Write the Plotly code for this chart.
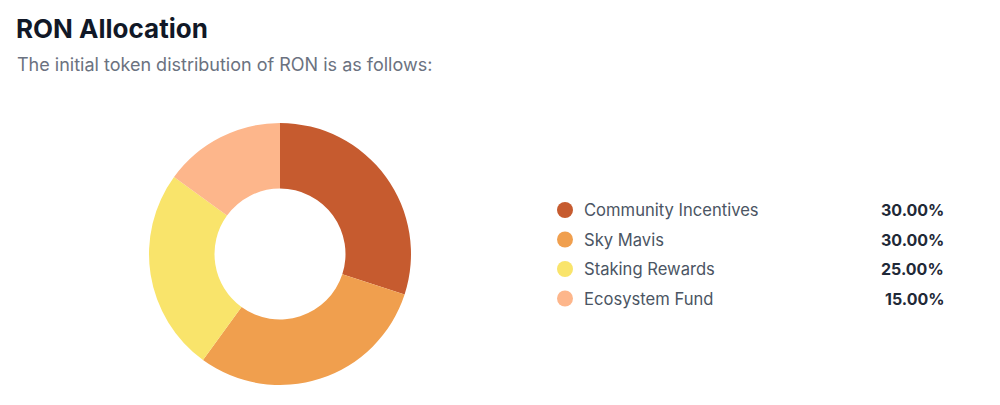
import plotly.graph_objects as go

# allocation data
labels = ["Community Incentives", "Sky Mavis", "Staking Rewards", "Ecosystem Fund"]
shares = [30.0, 30.0, 25.0, 15.0]
colors = ["#C65B2F", "#F09F4E", "#F9E46B", "#FDB68B"]

W, H = 1000, 405
off = 8  # page body margin, coordinates below are page pixels
font = "Inter, 'Noto Sans', sans-serif"

# donut centre / radius in page pixels
cx, cy, r = 280 - off, 254 - off, 131

fig = go.Figure()
fig.add_trace(go.Pie(
    labels=labels, values=shares, sort=False, direction="clockwise", rotation=0,
    hole=0.5, textinfo="none", hoverinfo="label+percent",
    marker=dict(colors=colors, line=dict(width=0)),
    domain=dict(x=[(cx - r) / W, (cx + r) / W], y=[(H - cy - r) / H, (H - cy + r) / H]),
    showlegend=False,
))

# custom legend on the right, pixel axes
row0, step = 210, 29.5
ys = [row0 + i * step for i in range(len(labels))]
fig.add_trace(go.Scatter(
    x=[565] * len(labels), y=ys, mode="markers",
    marker=dict(size=16, color=colors), hoverinfo="skip", showlegend=False,
))
for i, lab in enumerate(labels):
    fig.add_annotation(x=582, y=ys[i], text=lab, showarrow=False, xanchor="left", yanchor="middle",
                       font=dict(family=font, size=16.6, color="#4B5563"))
    fig.add_annotation(x=946, y=ys[i], text="<b>%.2f%%</b>" % shares[i], showarrow=False,
                       xanchor="right", yanchor="middle",
                       font=dict(family=font, size=16, color="#1F2937"))

fig.add_annotation(x=14, y=28, text="<b>RON Allocation</b>", showarrow=False, xanchor="left",
                   yanchor="middle", font=dict(family=font, size=26, color="#111827"))
fig.add_annotation(x=15, y=64, text="The initial token distribution of RON is as follows:",
                   showarrow=False, xanchor="left", yanchor="middle",
                   font=dict(family=font, size=18, color="#6B7280"))

fig.update_layout(
    width=W, height=H, margin=dict(l=0, r=0, t=0, b=0),
    paper_bgcolor="white", plot_bgcolor="rgba(0,0,0,0)",
    xaxis=dict(range=[off, W + off], visible=False, domain=[0, 1], fixedrange=True),
    yaxis=dict(range=[H + off, off], visible=False, domain=[0, 1], fixedrange=True),
)
fig.write_html("out.html")
